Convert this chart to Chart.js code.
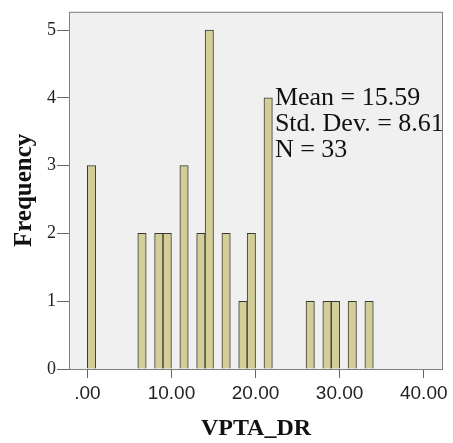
<!DOCTYPE html>
<html>
<head>
<meta charset="utf-8">
<script src="https://cdn.jsdelivr.net/npm/chart.js@4"></script>
<style>
  html, body { margin: 0; padding: 0; background: #ffffff; }
  #chart { display: block; }
</style>
</head>
<body>
<canvas id="chart" width="453" height="443"></canvas>
<script>
// histogram bins (bin start, width 1) and frequencies
const binStarts = [0, 6, 8, 9, 11, 13, 14, 16, 18, 19, 21, 26, 28, 29, 31, 33];
const counts = [3, 2, 2, 2, 3, 2, 5, 2, 1, 2, 4, 1, 1, 1, 1, 1];
const binWidth = 1;

const xTicks = [0, 10, 20, 30, 40];
const yTicks = [0, 1, 2, 3, 4, 5];

const statsLines = ["Mean = 15.59", "Std. Dev. = 8.61", "N = 33"];

const serif = "'Liberation Serif', 'Times New Roman', serif";
const sans = "'Liberation Sans', Arial, sans-serif";

const points = binStarts.map((s, i) => ({ x: s + binWidth / 2, y: counts[i] }));

// plot panel: grey fill + frame, and the stats box
const panelPlugin = {
  id: "panel",
  beforeDatasetsDraw(chart) {
    const { ctx, chartArea: a } = chart;
    ctx.save();
    ctx.fillStyle = "#f0f0f0";
    ctx.fillRect(a.left, a.top, a.right - a.left, a.bottom - a.top);
    ctx.restore();
  },
  afterDatasetsDraw(chart) {
    const { ctx, chartArea: a, scales } = chart;
    ctx.save();
    ctx.strokeStyle = "#808080";
    ctx.lineWidth = 1;
    ctx.strokeRect(a.left + 0.5, a.top + 0.5, a.right - a.left - 1, a.bottom - a.top);

    // stats text, anchored in data space
    ctx.fillStyle = "#111";
    ctx.font = "26px " + serif;
    ctx.textBaseline = "alphabetic";
    const x = scales.x.getPixelForValue(22.3);
    let yv = 3.89;
    statsLines.forEach((line) => {
      ctx.fillText(line, x, scales.y.getPixelForValue(yv));
      yv -= 0.38;
    });
    ctx.restore();
  },
};

new Chart(document.getElementById("chart"), {
  type: "bar",
  data: {
    datasets: [
      {
        data: points,
        backgroundColor: "rgb(211, 206, 152)",
        borderColor: "#383838",
        borderWidth: 1,
        barPercentage: 1,
        categoryPercentage: 1,
      },
    ],
  },
  options: {
    responsive: false,
    animation: false,
    devicePixelRatio: 1,
    layout: { padding: { top: 9, right: 10, left: 0, bottom: 0 } },
    plugins: {
      legend: { display: false },
      tooltip: { enabled: false },
    },
    scales: {
      x: {
        type: "linear",
        offset: false,
        min: -2.18,
        max: 42.29,
        afterBuildTicks: (s) => { s.ticks = xTicks.map((v) => ({ value: v })); },
        afterFit: (s) => { s.height = 74; },
        grid: { offset: false, drawOnChartArea: false, drawTicks: true, tickLength: 9, color: "#666" },
        border: { display: false },
        ticks: {
          color: "#222",
          font: { family: sans, size: 19 },
          padding: 4,
          maxRotation: 0,
          callback: (v) => (v === 0 ? ".00" : v.toFixed(2)),
        },
        title: {
          display: true,
          text: "VPTA_DR",
          color: "#111",
          font: { family: serif, size: 24, weight: "bold", lineHeight: 1.2 },
          padding: { top: 0, bottom: 0 },
        },
      },
      y: {
        min: 0,
        max: 5.27,
        afterBuildTicks: (s) => { s.ticks = yTicks.map((v) => ({ value: v })); },
        afterFit: (s) => { s.width = 69; },
        grid: { drawOnChartArea: false, drawTicks: true, tickLength: 12, color: "#666" },
        border: { display: false },
        ticks: {
          color: "#222",
          font: { family: serif, size: 18 },
          padding: 1,
        },
        title: {
          display: true,
          text: "Frequency",
          color: "#111",
          font: { family: serif, size: 25, weight: "bold", lineHeight: 1.2 },
          padding: { top: 10, bottom: 0 },
        },
      },
    },
  },
  plugins: [panelPlugin],
});
</script>
</body>
</html>
